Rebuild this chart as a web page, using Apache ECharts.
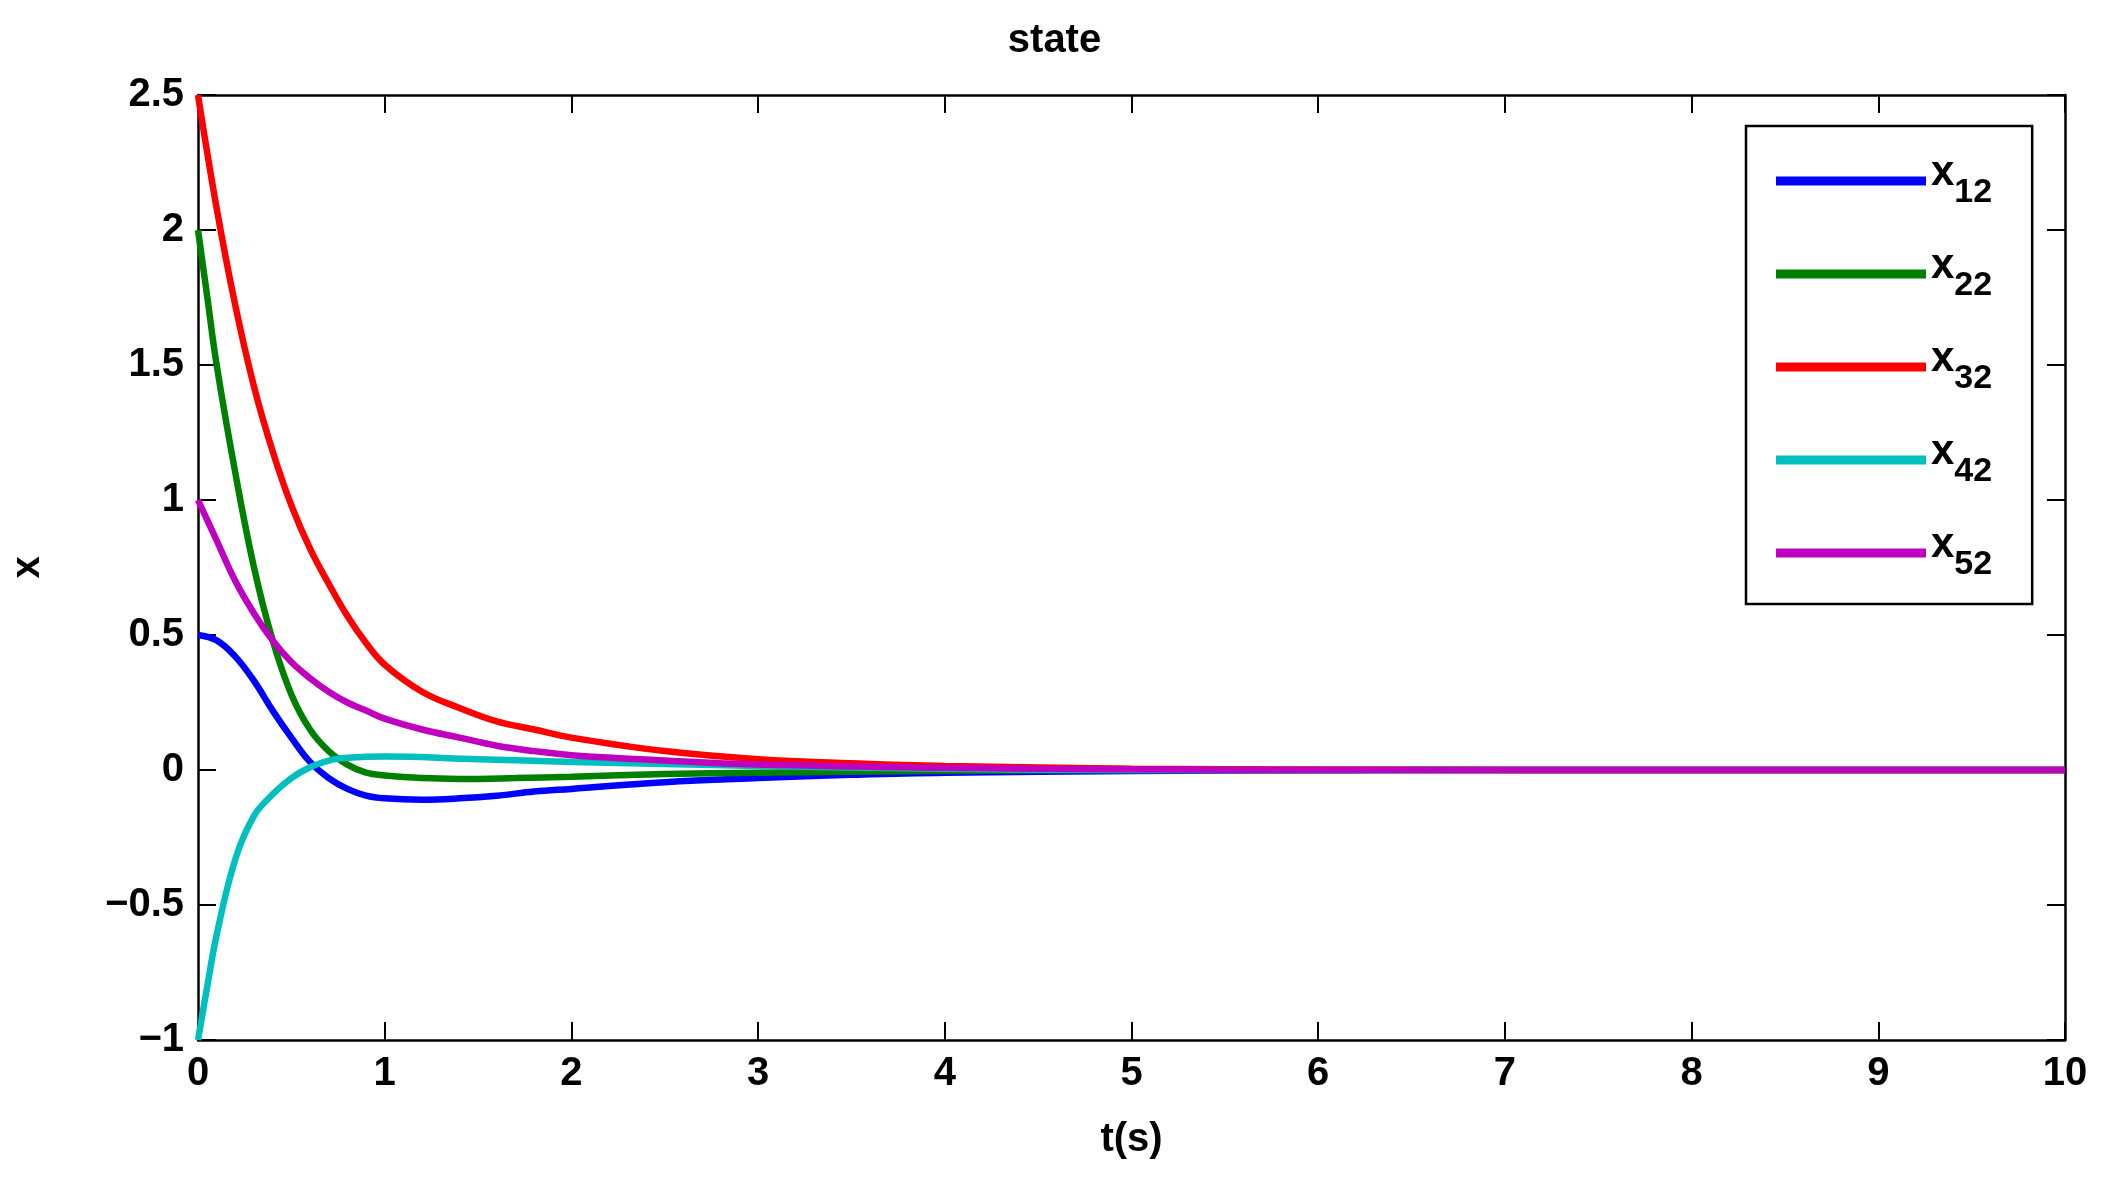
<!DOCTYPE html>
<html><head><meta charset="utf-8">
<script src="https://cdn.jsdelivr.net/npm/echarts@6/dist/echarts.min.js"></script>
<style>html,body{margin:0;padding:0;background:#fff}#c{width:2109px;height:1193px}</style>
</head><body><div id="c"></div>
<script>
const x12 = [[0,0.5],[0.1,0.48],[0.2,0.42],[0.3,0.33],[0.4,0.22],[0.5,0.12],[0.6,0.03],[0.7,-0.03],[0.8,-0.07],[0.9,-0.095],[1.0,-0.105],[1.2,-0.11],[1.4,-0.105],[1.6,-0.095],[1.8,-0.08],[2,-0.07],[2.5,-0.045],[3,-0.03],[3.5,-0.018],[4,-0.01],[5,-0.004],[6,-0.001],[7,0],[10,0]];
const x22 = [[0,2],[0.05,1.75],[0.1,1.5],[0.2,1.1],[0.3,0.75],[0.4,0.48],[0.5,0.28],[0.6,0.15],[0.7,0.07],[0.8,0.02],[0.9,-0.01],[1.0,-0.02],[1.2,-0.03],[1.4,-0.033],[1.7,-0.03],[2,-0.025],[2.5,-0.015],[3,-0.01],[4,-0.003],[5,0],[10,0]];
const x32 = [[0,2.5],[0.1,2.08],[0.2,1.72],[0.3,1.42],[0.4,1.18],[0.5,0.98],[0.6,0.82],[0.7,0.69],[0.8,0.57],[0.9,0.47],[1,0.39],[1.2,0.29],[1.4,0.23],[1.6,0.18],[1.8,0.15],[2,0.12],[2.5,0.07],[3,0.04],[3.5,0.025],[4,0.015],[5,0.005],[6,0.002],[7,0],[10,0]];
const x42 = [[0,-1],[0.05,-0.8],[0.1,-0.61],[0.2,-0.33],[0.3,-0.17],[0.4,-0.09],[0.5,-0.03],[0.6,0.01],[0.7,0.035],[0.8,0.045],[1,0.05],[1.5,0.04],[2,0.03],[3,0.015],[4,0.005],[5,0],[10,0]];
const x52 = [[0,1],[0.1,0.85],[0.2,0.7],[0.3,0.58],[0.4,0.48],[0.5,0.4],[0.6,0.34],[0.7,0.29],[0.8,0.25],[0.9,0.22],[1,0.19],[1.2,0.15],[1.4,0.12],[1.6,0.09],[1.8,0.07],[2,0.055],[2.5,0.035],[3,0.02],[4,0.008],[5,0.003],[6,0],[10,0]];
const names = ['x12','x22','x32','x42','x52'];
const colors = ['#0000ff','#008000','#ff0000','#00bfbf','#bf00bf'];
const datas = [x12,x22,x32,x42,x52];

const F = 'Liberation Sans, Arial, sans-serif';
const lbl = {fontFamily:F,fontWeight:'bold',fontSize:40,color:'#000'};
const axLine = {show:true,onZero:false,lineStyle:{color:'#000',width:2.5}};
const tick = {show:true,inside:true,length:18,lineStyle:{color:'#000',width:2}};
const chart = echarts.init(document.getElementById('c'));
chart.setOption({
  animation:false,
  title:{text:'state',left:'center',top:16,textStyle:{fontFamily:F,fontWeight:'bold',fontSize:40,color:'#000'}},
  grid:{left:196,top:95,right:44,bottom:153},
  legend:{
    orient:'vertical',left:1746,top:126,width:294,
    padding:[26,40,22,30],itemGap:35,
    itemWidth:150,itemHeight:9,icon:'rect',
    borderColor:'#000',borderWidth:2.5,backgroundColor:'#fff',
    data:names,
    formatter:n=>'{b|x}{s|'+n.slice(1)+'}',
    textStyle:{rich:{
      b:{fontFamily:F,fontWeight:'bold',fontSize:42,color:'#000',padding:[0,0,16,0]},
      s:{fontFamily:F,fontWeight:'bold',fontSize:34,color:'#000',padding:[24,0,0,0]}
    }}
  },
  xAxis:[
    {type:'value',min:0,max:10,interval:1,position:'bottom',axisLine:axLine,axisTick:tick,splitLine:{show:false},
     axisLabel:Object.assign({margin:14},lbl),
     name:'t(s)',nameLocation:'middle',nameGap:80,nameTextStyle:lbl},
    {type:'value',min:0,max:10,interval:1,position:'top',axisLine:axLine,axisTick:tick,splitLine:{show:false},axisLabel:{show:false}}
  ],
  yAxis:[
    {type:'value',min:-1,max:2.5,interval:0.5,position:'left',axisLine:axLine,axisTick:tick,splitLine:{show:false},
     axisLabel:Object.assign({margin:14,formatter:v=>String(v).replace('-','\u2212')},lbl),
     name:'x',nameLocation:'middle',nameGap:150,nameRotate:90,nameTextStyle:lbl},
    {type:'value',min:-1,max:2.5,interval:0.5,position:'right',axisLine:axLine,axisTick:tick,splitLine:{show:false},axisLabel:{show:false}}
  ],
  series:datas.map((d,i)=>({name:names[i],type:'line',data:d,smooth:0.4,showSymbol:false,
    lineStyle:{color:colors[i],width:6.5},itemStyle:{color:colors[i]},z:2+i,clip:true}))
});
</script></body></html>
